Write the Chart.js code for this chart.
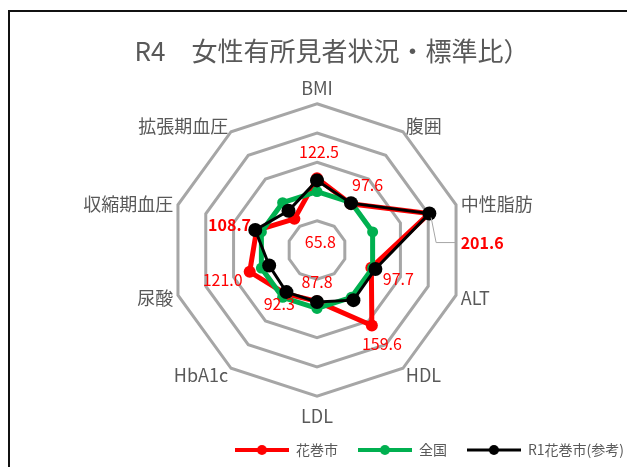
<!DOCTYPE html>
<html lang="ja">
<head>
<meta charset="utf-8">
<title>R4 女性有所見者状況・標準比</title>
<script src="https://cdn.jsdelivr.net/npm/chart.js@4/dist/chart.umd.min.js"></script>
<style>
    html, body {
        margin: 0;
        padding: 0;
        width: 627px;
        height: 467px;
        overflow: hidden;
        background: #fff;
    }
    .frame {
        position: absolute;
        left: 8px;
        top: 10px;
        width: 700px;
        height: 600px;
        border: 2px solid #111;
        box-sizing: border-box;
    }
    .wrap {
        position: absolute;
        left: -9px;
        top: 0;
        width: 653px;
        height: 467px;
    }
</style>
</head>
<body>
<div class="frame"></div>
<div class="wrap"><canvas id="radarChart"></canvas></div>
<script>
// Chart data
const axisLabels = ['BMI', '腹囲', '中性脂肪', 'ALT', 'HDL', 'LDL', 'HbA1c', '尿酸', '収縮期血圧', '拡張期血圧'];
const seriesNames = ['花巻市', '全国', 'R1花巻市(参考)'];
const hanamakiR4 = [122.5, 97.6, 201.6, 97.7, 159.6, 87.8, 92.3, 121.0, 108.7, 65.8];
const nationalValues = [100, 100, 100, 100, 100, 100, 100, 100, 100, 100];
const hanamakiR1 = [119, 99, 202, 105, 106, 89, 89, 86, 111, 83];
const scaleMin = 0;
const scaleMax = 250;
const scaleStep = 50;

// Colors
const RED = '#FF0000';
const GREEN = '#00B050';
const BLACK = '#000000';
const GRID = '#A6A6A6';
const TEXT = '#595959';
const FONT = "'Noto Sans CJK JP', 'Noto Sans', sans-serif";

// Data label placement for the 花巻市 series (dx, dy from the point)
const labelOffsets = [
    [2, -26], [17, -19], [53, 29], [27, 11], [10, 18],
    [0, -19], [-6, 10], [-27, 8], [-27, -5], [26, 23]
];
const boldLabels = [2, 8];
const leaderLabels = [2];

// Vertical nudge for the axis names so they sit level with the outer ring corners
const pointLabelNudge = [0, 9, 12, -9, -8, 4, -8, -9, 12, 9];

// Legend swatch: line with a dot in the middle
function makeSwatch(color, lineWidth, radius) {
    const c = document.createElement('canvas');
    c.width = 54;
    c.height = 14;
    const ctx = c.getContext('2d');
    ctx.strokeStyle = color;
    ctx.lineWidth = lineWidth;
    ctx.beginPath();
    ctx.moveTo(0, 7);
    ctx.lineTo(54, 7);
    ctx.stroke();
    ctx.fillStyle = color;
    ctx.beginPath();
    ctx.arc(27, 7, radius, 0, Math.PI * 2);
    ctx.fill();
    return c;
}

const swatches = [
    makeSwatch(RED, 4, 5),
    makeSwatch(GREEN, 4, 5),
    makeSwatch(BLACK, 3, 5)
];

// Value labels on the 花巻市 series
const valueLabels = {
    id: 'valueLabels',
    afterDatasetsDraw(chart) {
        const meta = chart.getDatasetMeta(0);
        const ctx = chart.ctx;
        ctx.save();
        ctx.textAlign = 'center';
        ctx.textBaseline = 'middle';
        meta.data.forEach((pt, i) => {
            const [dx, dy] = labelOffsets[i];
            const x = pt.x + dx;
            const y = pt.y + dy;
            const bold = boldLabels.includes(i);
            ctx.font = `${bold ? 'bold ' : ''}16px ${FONT}`;
            const text = hanamakiR4[i].toFixed(1);
            if (leaderLabels.includes(i)) {
                const w = ctx.measureText(text).width;
                ctx.strokeStyle = GRID;
                ctx.lineWidth = 1;
                ctx.beginPath();
                ctx.moveTo(pt.x + 2, pt.y + 4);
                ctx.lineTo(pt.x + 7, y);
                ctx.lineTo(x - w / 2 - 5, y);
                ctx.stroke();
            }
            ctx.fillStyle = RED;
            ctx.fillText(text, x, y);
        });
        ctx.restore();
    }
};

const ctx = document.getElementById('radarChart');

new Chart(ctx, {
    type: 'radar',
    data: {
        labels: axisLabels,
        datasets: [{
            label: seriesNames[0],
            data: hanamakiR4,
            borderColor: RED,
            backgroundColor: RED,
            borderWidth: 5,
            pointRadius: 6,
            pointBorderWidth: 0,
            pointBackgroundColor: RED,
            fill: false,
            order: 2
        }, {
            label: seriesNames[1],
            data: nationalValues,
            borderColor: GREEN,
            backgroundColor: GREEN,
            borderWidth: 5,
            pointRadius: 5.5,
            pointBorderWidth: 0,
            pointBackgroundColor: GREEN,
            fill: false,
            order: 1
        }, {
            label: seriesNames[2],
            data: hanamakiR1,
            borderColor: BLACK,
            backgroundColor: BLACK,
            borderWidth: 3,
            pointRadius: 7,
            pointBorderWidth: 0,
            pointBackgroundColor: BLACK,
            fill: false,
            order: 0
        }]
    },
    options: {
        responsive: true,
        maintainAspectRatio: false,
        animation: false,
        elements: {
            line: { tension: 0 }
        },
        scales: {
            r: {
                min: scaleMin,
                max: scaleMax,
                ticks: {
                    stepSize: scaleStep,
                    display: false
                },
                angleLines: { display: false },
                grid: {
                    color: GRID,
                    lineWidth: 3
                },
                pointLabels: {
                    color: TEXT,
                    padding: 5,
                    font: { family: FONT, size: 18 }
                },
                afterFit(scale) {
                    (scale._pointLabelItems || []).forEach((item, i) => {
                        const dy = pointLabelNudge[i] || 0;
                        item.y += dy;
                        item.top += dy;
                        item.bottom += dy;
                    });
                }
            }
        },
        plugins: {
            title: {
                display: true,
                text: '     R4　女性有所見者状況・標準比）',
                color: TEXT,
                font: { family: FONT, size: 26, weight: 'normal' },
                padding: { top: 36, bottom: 10 }
            },
            legend: {
                position: 'bottom',
                align: 'end',
                labels: {
                    color: TEXT,
                    font: { family: FONT, size: 14 },
                    padding: 20,
                    boxHeight: 14,
                    usePointStyle: true,
                    pointStyleWidth: 54,
                    sort: (a, b) => a.datasetIndex - b.datasetIndex,
                    generateLabels(chart) {
                        const items = Chart.defaults.plugins.legend.labels.generateLabels(chart);
                        items.forEach(item => {
                            item.pointStyle = swatches[item.datasetIndex];
                        });
                        return items;
                    }
                }
            },
            tooltip: { enabled: false }
        }
    },
    plugins: [valueLabels]
});
</script>
</body>
</html>
